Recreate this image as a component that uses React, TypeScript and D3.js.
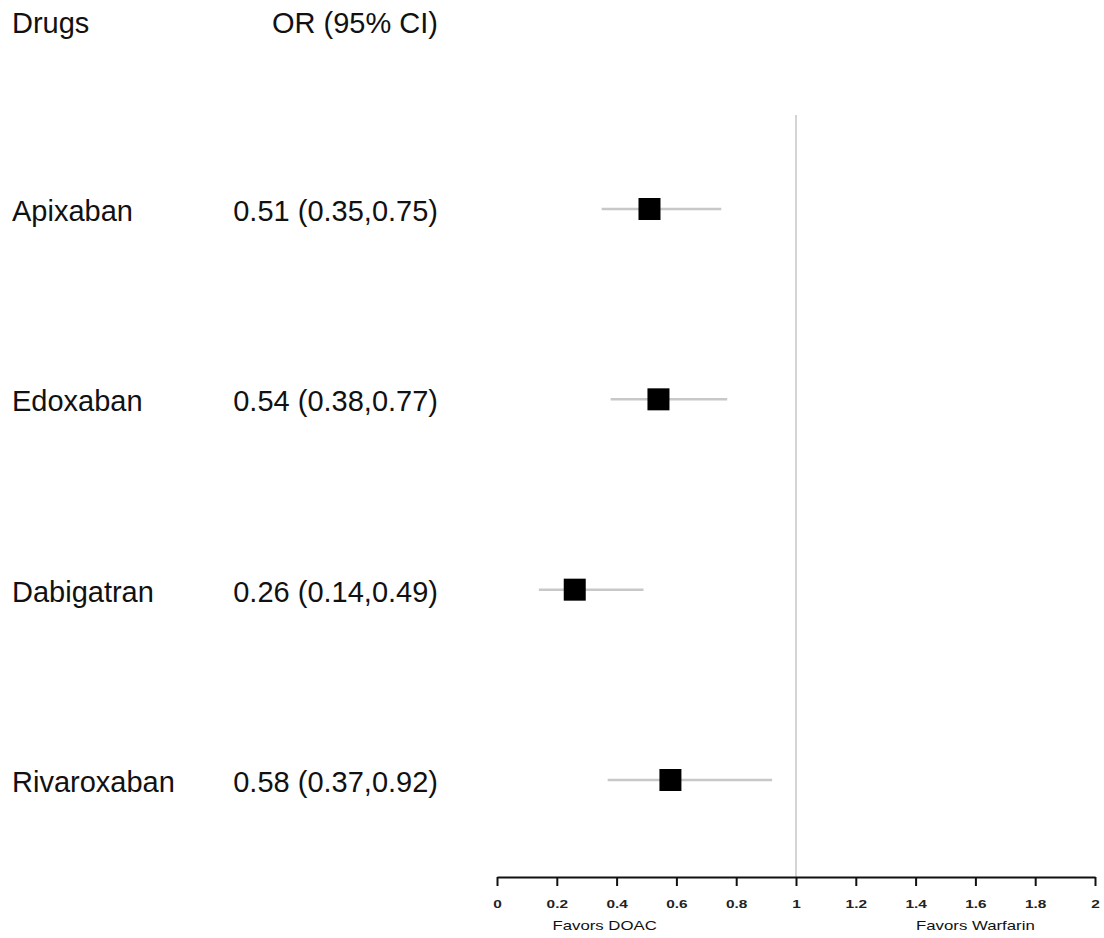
import React, { useEffect, useRef } from "react";
import * as d3 from "d3";

const drugs = ["Apixaban", "Edoxaban", "Dabigatran", "Rivaroxaban"];
const orValues = [0.51, 0.54, 0.26, 0.58];
const lowerCI = [0.35, 0.38, 0.14, 0.37];
const upperCI = [0.75, 0.77, 0.49, 0.92];
const orLabels = [
  "0.51 (0.35,0.75)",
  "0.54 (0.38,0.77)",
  "0.26 (0.14,0.49)",
  "0.58 (0.37,0.92)",
];
const tickValues = [0, 0.2, 0.4, 0.6, 0.8, 1, 1.2, 1.4, 1.6, 1.8, 2];

const App = () => {
  const ref = useRef<SVGSVGElement>(null);

  useEffect(() => {
    const svg = d3.select(ref.current);
    svg.selectAll("*").remove();

    const width = 1104;
    const height = 938;
    const font = "'Liberation Sans', Arial, sans-serif";
    const fs = 29;
    const stretch = 1.4; // bottom axis text looks stretched sideways

    const x = d3.scaleLinear().domain([0, 2]).range([497, 1095]);
    const y = d3.scalePoint().domain(drugs).range([209, 780]);

    svg.attr("width", width).attr("height", height);

    // headers
    svg
      .append("text")
      .attr("x", 12)
      .attr("y", 33)
      .attr("font-family", font)
      .attr("font-size", fs)
      .attr("fill", "#111")
      .text("Drugs");
    svg
      .append("text")
      .attr("x", 438)
      .attr("y", 33)
      .attr("text-anchor", "end")
      .attr("font-family", font)
      .attr("font-size", fs)
      .attr("fill", "#111")
      .text("OR (95% CI)");

    // reference line at 1
    svg
      .append("line")
      .attr("x1", x(1))
      .attr("x2", x(1))
      .attr("y1", 115)
      .attr("y2", 877)
      .attr("stroke", "#d4d4d4")
      .attr("stroke-width", 2);

    const rows = svg
      .selectAll("g.row")
      .data(drugs)
      .enter()
      .append("g")
      .attr("class", "row");

    rows
      .append("text")
      .attr("x", 12)
      .attr("y", (d) => (y(d) as number) + 12)
      .attr("font-family", font)
      .attr("font-size", fs)
      .attr("fill", "#111")
      .text((d) => d);

    rows
      .append("text")
      .attr("x", 438)
      .attr("y", (d) => (y(d) as number) + 12)
      .attr("text-anchor", "end")
      .attr("font-family", font)
      .attr("font-size", fs)
      .attr("fill", "#111")
      .text((d, i) => orLabels[i]);

    rows
      .append("line")
      .attr("x1", (d, i) => x(lowerCI[i]))
      .attr("x2", (d, i) => x(upperCI[i]))
      .attr("y1", (d) => y(d) as number)
      .attr("y2", (d) => y(d) as number)
      .attr("stroke", "#c8c8c8")
      .attr("stroke-width", 2.5);

    const sq = 22;
    rows
      .append("rect")
      .attr("x", (d, i) => x(orValues[i]) - sq / 2)
      .attr("y", (d) => (y(d) as number) - sq / 2)
      .attr("width", sq)
      .attr("height", sq)
      .attr("fill", "#000");

    // axis
    const axis = svg.append("g").attr("transform", "translate(0,877)");
    axis.call(
      d3
        .axisBottom(x)
        .tickValues(tickValues)
        .tickSize(9)
        .tickSizeOuter(0)
        .tickFormat((d) => d3.format("")(d as number))
    );
    axis.select(".domain").attr("stroke", "#111").attr("stroke-width", 2);
    axis.selectAll(".tick line").attr("stroke", "#111").attr("stroke-width", 2);
    axis
      .selectAll(".tick text")
      .attr("font-family", font)
      .attr("font-size", 11)
      .attr("font-weight", "bold")
      .attr("fill", "#222")
      .attr("y", 0)
      .attr("dy", 0)
      .attr("transform", `translate(0,31) scale(${stretch},1)`);

    const favors = [
      { label: "Favors DOAC", at: 0.36 },
      { label: "Favors Warfarin", at: 1.6 },
    ];
    svg
      .selectAll("text.favor")
      .data(favors)
      .enter()
      .append("text")
      .attr("class", "favor")
      .attr("transform", (d) => `translate(${x(d.at)},930) scale(${stretch},1)`)
      .attr("text-anchor", "middle")
      .attr("font-family", font)
      .attr("font-size", 12)
      .attr("fill", "#111")
      .text((d) => d.label);
  }, []);

  return (
    <div style={{ position: "absolute", left: 0, top: 0 }}>
      <svg ref={ref}></svg>
    </div>
  );
};

export default App;
